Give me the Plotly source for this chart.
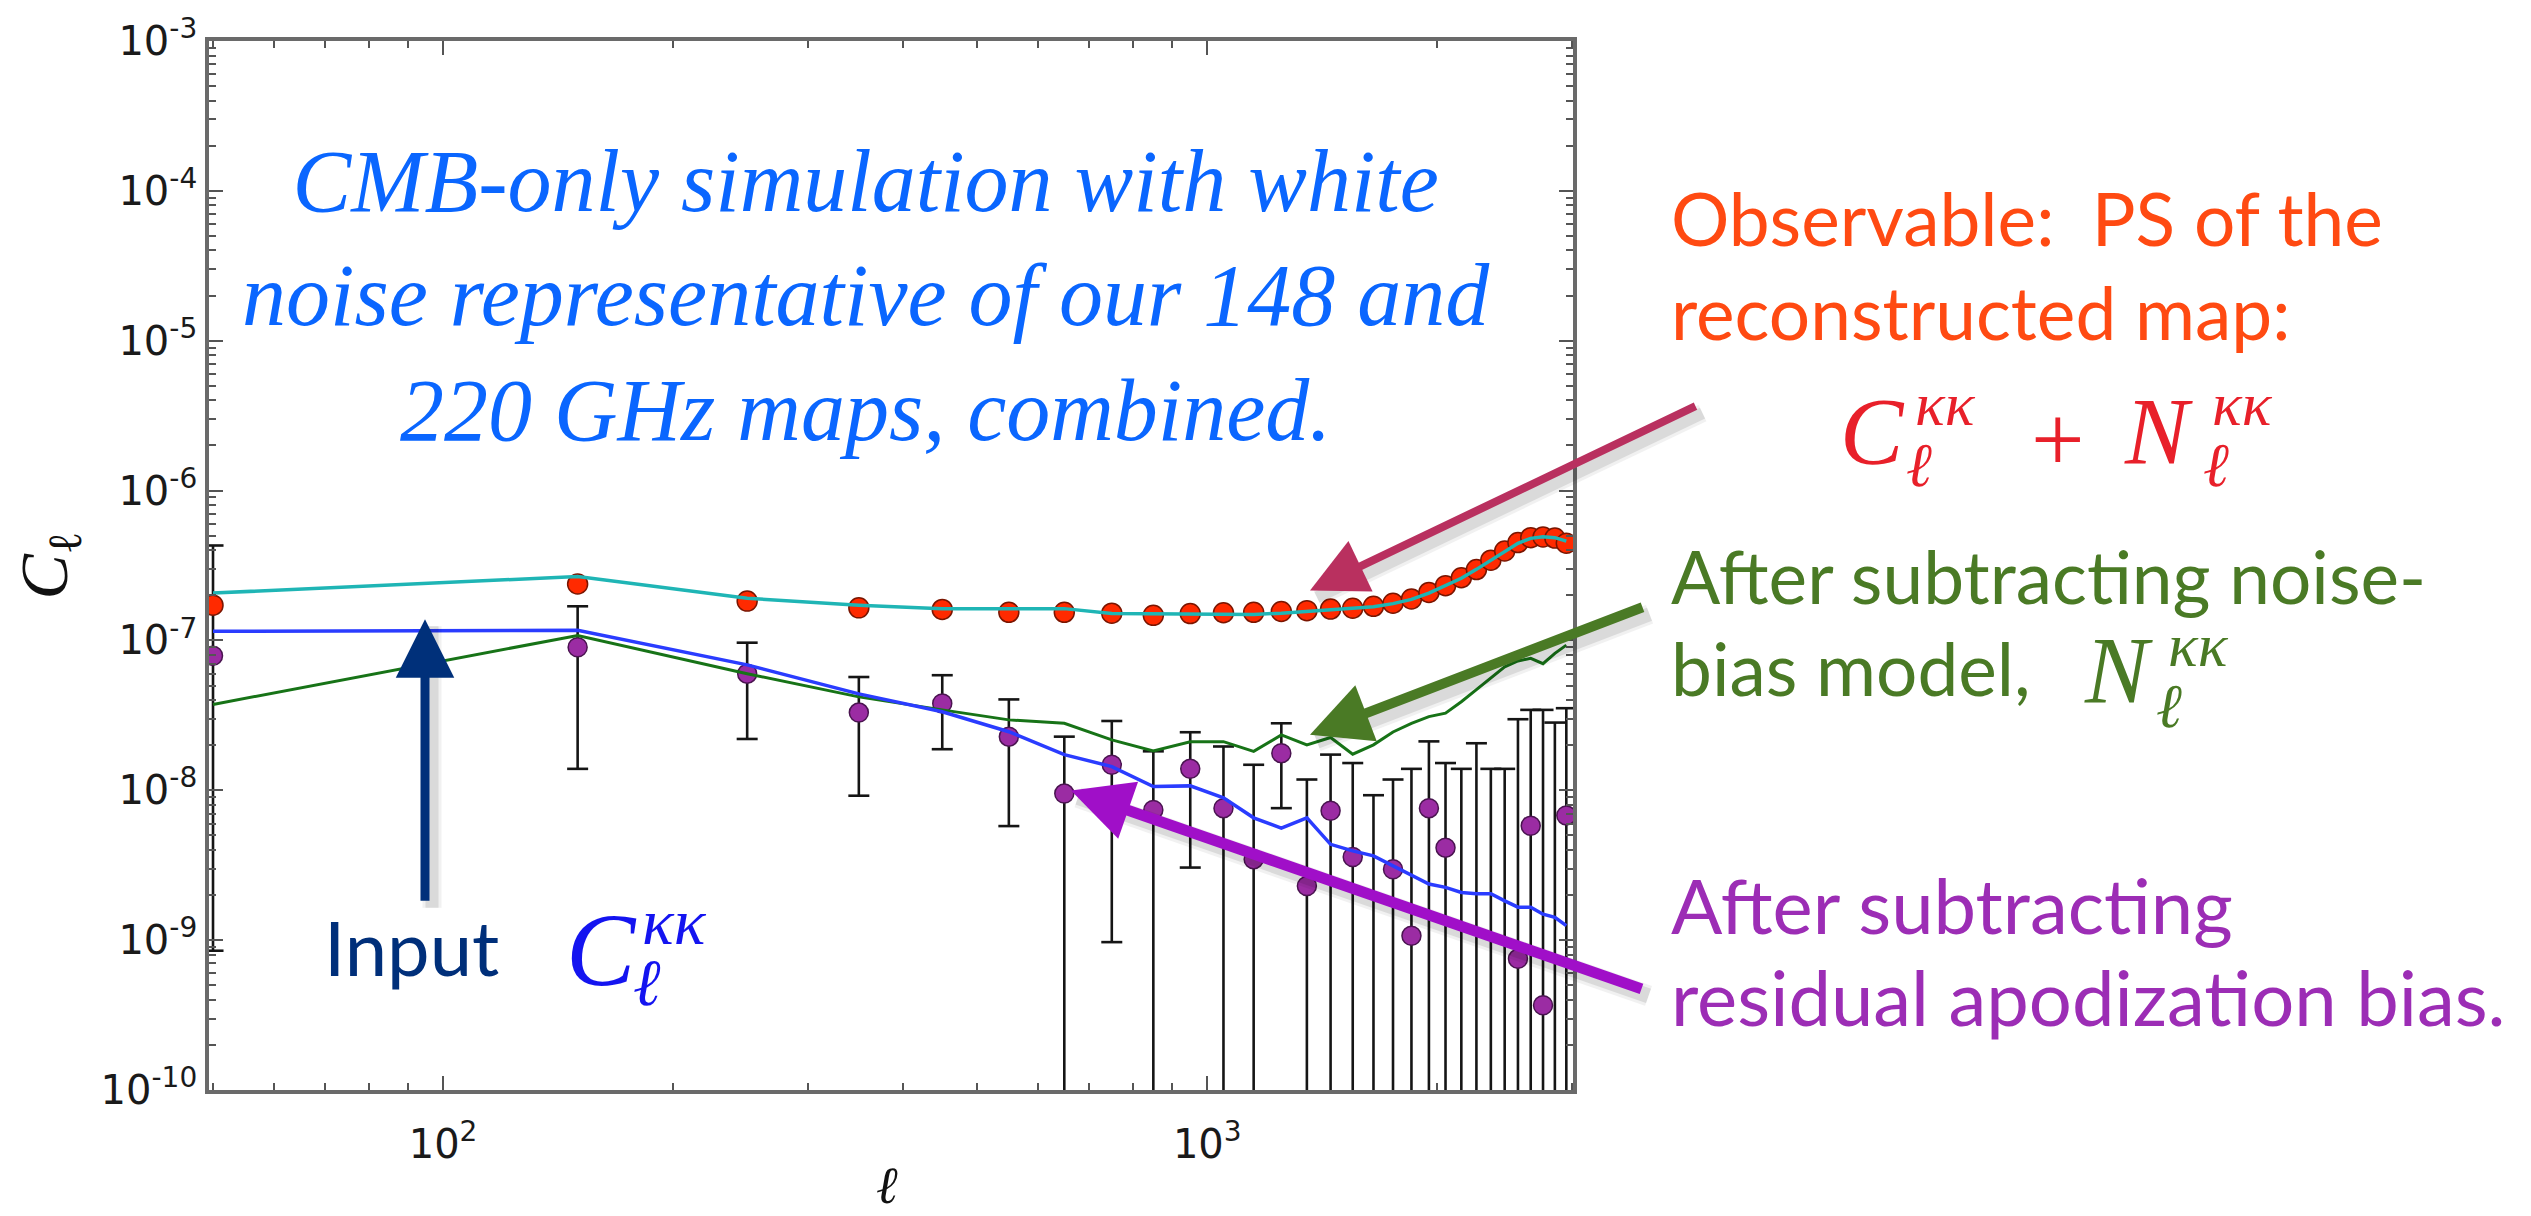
import math
import plotly.graph_objects as go

# ---------------------------------------------------------------------------
# Binned lensing power spectra (bin centres in multipole ell)
# ---------------------------------------------------------------------------
ell = [50, 150, 250, 350, 450, 550, 650, 750, 850, 950,
       1050, 1150, 1250, 1350, 1450, 1550, 1650, 1750, 1850, 1950,
       2050, 2150, 2250, 2350, 2450, 2550, 2650, 2750, 2850, 2950]

# Observable: PS of the reconstructed map, one realisation (red points)
obs_points = [1.72e-7, 2.38e-7, 1.83e-7, 1.65e-7, 1.61e-7, 1.54e-7, 1.54e-7, 1.52e-7, 1.47e-7, 1.51e-7,
              1.53e-7, 1.54e-7, 1.56e-7, 1.58e-7, 1.62e-7, 1.64e-7, 1.69e-7, 1.77e-7, 1.89e-7, 2.09e-7,
              2.32e-7, 2.62e-7, 2.97e-7, 3.43e-7, 3.95e-7, 4.50e-7, 4.85e-7, 4.90e-7, 4.82e-7, 4.45e-7]

# Observable: mean over simulations (cyan line)
obs_mean = [2.07e-7, 2.67e-7, 1.91e-7, 1.72e-7, 1.63e-7, 1.63e-7, 1.63e-7, 1.51e-7, 1.50e-7, 1.49e-7,
            1.49e-7, 1.49e-7, 1.52e-7, 1.56e-7, 1.60e-7, 1.63e-7, 1.68e-7, 1.76e-7, 1.88e-7, 2.07e-7,
            2.31e-7, 2.60e-7, 2.98e-7, 3.42e-7, 3.93e-7, 4.45e-7, 4.80e-7, 4.92e-7, 4.85e-7, 4.60e-7]

# Input convergence spectrum C_ell^kk (blue line)
input_clkk = [1.15e-7, 1.17e-7, 6.87e-8, 4.40e-8, 3.34e-8, 2.46e-8, 1.73e-8, 1.44e-8, 1.06e-8, 1.07e-8,
              8.90e-9, 6.55e-9, 5.60e-9, 6.55e-9, 4.36e-9, 3.94e-9, 3.65e-9, 3.13e-9, 2.73e-9, 2.37e-9,
              2.25e-9, 2.08e-9, 2.04e-9, 2.04e-9, 1.83e-9, 1.66e-9, 1.66e-9, 1.49e-9, 1.42e-9, 1.25e-9]

# After subtracting the noise-bias model N_ell^kk (green line)
after_noise = [3.74e-8, 1.08e-7, 6.00e-8, 4.20e-8, 3.44e-8, 2.95e-8, 2.80e-8, 2.17e-8, 1.83e-8, 2.11e-8,
               2.11e-8, 1.82e-8, 2.34e-8, 2.01e-8, 2.25e-8, 1.74e-8, 2.01e-8, 2.45e-8, 2.80e-8, 3.10e-8,
               3.27e-8, 3.90e-8, 4.70e-8, 5.60e-8, 6.66e-8, 7.30e-8, 7.60e-8, 7.00e-8, 8.20e-8, 9.30e-8]

# After subtracting the residual apodization bias (purple points; None = negative, off the log axis)
after_apod = [7.9e-8, 9.0e-8, 6.0e-8, 3.3e-8, 3.8e-8, 2.28e-8, 9.5e-9, 1.48e-8, 7.4e-9, 1.39e-8,
              7.6e-9, 3.47e-9, 1.77e-8, 2.3e-9, 7.3e-9, 3.59e-9, None, 2.97e-9, 1.07e-9, 7.6e-9,
              4.14e-9, None, None, None, None, 7.5e-10, 5.8e-9, 3.68e-10, None, 6.8e-9]

# Error-bar ends (None = lower end falls below zero)
err_upper = [4.3e-7, 1.69e-7, 9.66e-8, 5.7e-8, 5.86e-8, 4.04e-8, 2.28e-8, 2.9e-8, 1.82e-8, 2.44e-8,
             1.96e-8, 1.48e-8, 2.8e-8, 1.18e-8, 1.73e-8, 1.52e-8, 9.27e-9, 1.18e-8, 1.39e-8, 2.12e-8,
             1.52e-8, 1.39e-8, 2.06e-8, 1.39e-8, 1.39e-8, 2.98e-8, 3.44e-8, 3.44e-8, 2.83e-8, 3.53e-8]
err_lower = [8.5e-10, 1.39e-8, 2.2e-8, 9.2e-9, 1.88e-8, 5.77e-9, None, 9.7e-10, None, 3.05e-9,
             None, None, 7.6e-9, None, None, None, None, None, None, None,
             None, None, None, None, None, None, None, None, None, None]

x_tick_vals = [100, 1000]
x_tick_text = ["10<sup>2</sup>", "10<sup>3</sup>"]
y_tick_vals = [1e-10, 1e-9, 1e-8, 1e-7, 1e-6, 1e-5, 1e-4, 1e-3]
y_tick_text = ["10<sup>-10</sup>", "10<sup>-9</sup>", "10<sup>-8</sup>", "10<sup>-7</sup>",
               "10<sup>-6</sup>", "10<sup>-5</sup>", "10<sup>-4</sup>", "10<sup>-3</sup>"]

# ---------------------------------------------------------------------------
# Canvas geometry
# ---------------------------------------------------------------------------
W, H = 2531, 1216
ML, MR, MT, MB = 209, 958, 36, 126
PW, PH = W - ML - MR, H - MT - MB
X_RANGE = [math.log10(49.4), math.log10(3010)]
Y_RANGE = [-10, -3]
FLOOR = 10 ** (Y_RANGE[0] - 1)


def px(X):
    return (X - ML) / PW


def py(Y):
    return 1 - (Y - MT) / PH


fig = go.Figure()

# error bars: vertical segments
ex, ey = [], []
for l, lo, hi in zip(ell, err_lower, err_upper):
    ex += [l, l, None]
    ey += [FLOOR if lo is None else lo, hi, None]
fig.add_trace(go.Scatter(x=ex, y=ey, mode="lines",
                         line=dict(color="#151515", width=2.6), hoverinfo="skip"))

# error bar caps
cap_x = list(ell) + [l for l, lo in zip(ell, err_lower) if lo is not None]
cap_y = list(err_upper) + [lo for lo in err_lower if lo is not None]
fig.add_trace(go.Scatter(x=cap_x, y=cap_y, mode="markers", hoverinfo="skip",
                         marker=dict(symbol="line-ew", size=15,
                                     line=dict(color="#151515", width=2.6))))

# purple points
fig.add_trace(go.Scatter(x=ell, y=after_apod, mode="markers",
                         marker=dict(size=19, color="#9b2ca3",
                                     line=dict(color="#4a1450", width=1.5))))

# red points
fig.add_trace(go.Scatter(x=ell, y=obs_points, mode="markers",
                         marker=dict(size=20, color="#ff2a00",
                                     line=dict(color="#7a1500", width=1.5))))

# curves
fig.add_trace(go.Scatter(x=ell, y=after_noise, mode="lines",
                         line=dict(color="#177317", width=3)))
fig.add_trace(go.Scatter(x=ell, y=input_clkk, mode="lines",
                         line=dict(color="#2a3cff", width=3.5)))
fig.add_trace(go.Scatter(x=ell, y=obs_mean, mode="lines",
                         line=dict(color="#1fb5b5", width=3.5)))

axis_common = dict(
    showgrid=False, zeroline=False, showline=True, mirror="ticks",
    linecolor="#6a6a6a", linewidth=3.5,
    ticks="inside", ticklen=14, tickwidth=2.2, tickcolor="#555555",
    tickfont=dict(family="DejaVu Sans", size=40, color="#1a1a1a"),
    minor=dict(ticks="inside", ticklen=7, tickwidth=1.8, tickcolor="#555555",
               dtick="D1", showgrid=False),
)

fig.update_xaxes(type="log", range=X_RANGE, tickvals=x_tick_vals, ticktext=x_tick_text,
                 ticklabelstandoff=16, **axis_common)
fig.update_yaxes(type="log", range=Y_RANGE, tickvals=y_tick_vals, ticktext=y_tick_text,
                 **axis_common)

ann = []


def text_at(text, X, baseline, size, color, family, xanchor="left", align="left"):
    ann.append(dict(text=text, x=px(X), y=py(baseline - 0.32 * size),
                    xref="paper", yref="paper", xanchor=xanchor, yanchor="middle",
                    align=align, showarrow=False,
                    font=dict(family=family, size=size, color=color)))


def arrow(hx, hy, tx, ty, color, width, size):
    # soft drop shadow (shaft only), then the arrow itself
    for extra, alpha in ((10, 0.05), (4, 0.09)):
        ann.append(dict(text="", x=px(hx + 7), y=py(hy + 7), xref="paper", yref="paper",
                        ax=tx - hx, ay=ty - hy, axref="pixel", ayref="pixel",
                        showarrow=True, arrowhead=0, arrowwidth=width + extra,
                        arrowcolor="rgba(0,0,0,%s)" % alpha, standoff=0, startstandoff=0))
    ann.append(dict(text="", x=px(hx), y=py(hy), xref="paper", yref="paper",
                    ax=tx - hx, ay=ty - hy, axref="pixel", ayref="pixel",
                    showarrow=True, arrowhead=2, arrowsize=size, arrowwidth=width,
                    arrowcolor=color, standoff=0, startstandoff=0))


def math_sym(base, X, baseline, size, color, sup=None, sub=None):
    serif = "Liberation Serif"
    text_at("<i>%s</i>" % base, X, baseline, size, color, serif)
    if sup is not None:
        text_at("<i>%s</i>" % sup[0], sup[1], sup[2], sup[3], color, serif)
    if sub is not None:
        text_at("<i>%s</i>" % sub[0], sub[1], sub[2], sub[3], color, serif)


# arrows
arrow(425, 617, 425, 900, "#00307a", 9, 1.3)
arrow(1310, 588, 1697, 403, "#b9305f", 8, 1.4)
arrow(1310, 733, 1644, 605, "#4a7a25", 10, 1.2)
arrow(1071, 789, 1643, 988, "#a00fc8", 11, 1.1)

# description of the simulation
text_at("<i>CMB-only simulation with white<br>noise representative of our 148 and<br>"
        "220 GHz maps, combined.</i>",
        866, 320, 88, "#0a66ff", "Liberation Serif", xanchor="center", align="center")

sans = "Lato"
text_at("Input", 322, 970, 76, "#002f7a", sans)
math_sym("C", 564, 982, 104, "#1414f0",
         sup=("κκ", 640, 942, 66), sub=("ℓ", 631, 1003, 66))

text_at("Observable:  PS of the", 1669, 237, 73, "#ff4a12", sans)
text_at("reconstructed map:", 1669, 332, 73, "#ff4a12", sans)
math_sym("C", 1838, 459, 95, "#e8202a",
         sup=("κκ", 1913, 421, 62), sub=("ℓ", 1904, 482, 62))
ann.append(dict(text="+", x=px(2058), y=py(436), xref="paper", yref="paper",
                xanchor="center", yanchor="middle", showarrow=False,
                font=dict(family="Liberation Serif", size=95, color="#e8202a")))
math_sym("N", 2122, 459, 95, "#e8202a",
         sup=("κκ", 2210, 421, 62), sub=("ℓ", 2201, 482, 62))

text_at("After subtracting noise-", 1669, 597, 73, "#4a7a25", sans)
text_at("bias model,", 1669, 689, 73, "#4a7a25", sans)
math_sym("N", 2082, 699, 95, "#4a7a25",
         sup=("κκ", 2166, 663, 62), sub=("ℓ", 2154, 724, 62))

text_at("After subtracting", 1669, 928, 76, "#9c2db5", sans)
text_at("residual apodization bias.", 1669, 1020, 76, "#9c2db5", sans)

# axis titles
ann.append(dict(text="<i>C</i><sub>ℓ</sub>", x=px(48), y=py(563), xref="paper", yref="paper",
                xanchor="center", yanchor="middle", textangle=-90, showarrow=False,
                font=dict(family="Liberation Serif", size=68, color="#111111")))
ann.append(dict(text="<i>ℓ</i>", x=px(887), y=py(1186), xref="paper", yref="paper",
                xanchor="center", yanchor="middle", showarrow=False,
                font=dict(family="Liberation Serif", size=52, color="#111111")))

fig.update_layout(
    width=W, height=H,
    margin=dict(l=ML, r=MR, t=MT, b=MB, pad=0),
    paper_bgcolor="white", plot_bgcolor="white",
    showlegend=False,
    annotations=ann,
)

fig.write_html("out.html")
